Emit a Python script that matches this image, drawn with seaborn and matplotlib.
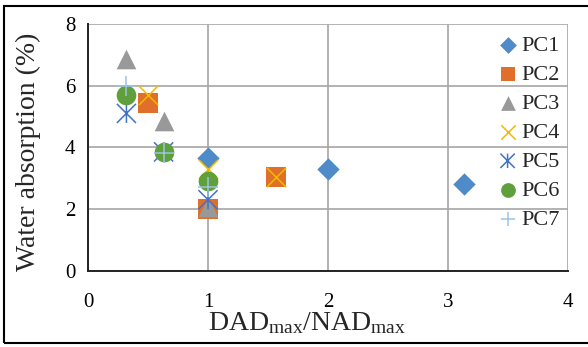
import matplotlib
matplotlib.use("Agg")
import numpy as np
import matplotlib.pyplot as plt
import seaborn as sns
from matplotlib.path import Path
from matplotlib.patches import Rectangle

# data
names = ["PC1", "PC2", "PC3", "PC4", "PC5", "PC6", "PC7"]
pc1_x = [1.0, 2.0, 3.13]
pc1_y = [3.65, 3.3, 2.8]
pc2_x = [0.5, 1.0, 1.57]
pc2_y = [5.45, 2.0, 3.05]
pc3_x = [0.32, 0.63, 1.0]
pc3_y = [6.85, 4.85, 2.05]
pc4_x = [0.5, 1.0, 1.57]
pc4_y = [5.7, 3.3, 3.05]
pc5_x = [0.32, 0.63, 1.0]
pc5_y = [5.1, 3.85, 2.3]
pc6_x = [0.32, 0.63, 1.0]
pc6_y = [5.7, 3.85, 2.9]
pc7_x = [0.32, 0.63, 1.0]
pc7_y = [6.0, 3.8, 2.7]
xs = [pc1_x, pc2_x, pc3_x, pc4_x, pc5_x, pc6_x, pc7_x]
ys = [pc1_y, pc2_y, pc3_y, pc4_y, pc5_y, pc6_y, pc7_y]

sns.set_style("white")
plt.rcParams["font.family"] = ["Liberation Serif", "DejaVu Serif"]
plt.rcParams["mathtext.fontset"] = "custom"
plt.rcParams["mathtext.rm"] = "Liberation Serif"
plt.rcParams["mathtext.it"] = "Liberation Serif:italic"
plt.rcParams["mathtext.default"] = "regular"

# excel style star: x with a vertical bar
star = Path([(-0.5, -0.5), (0.5, 0.5), (-0.5, 0.5), (0.5, -0.5), (0, -0.5), (0, 0.5)],
            [Path.MOVETO, Path.LINETO, Path.MOVETO, Path.LINETO, Path.MOVETO, Path.LINETO])

cols = ["#4F8BC9", "#E06F2C", "#999999", "#F5B800", "#4472C4", "#5FA03C", "#9DC3E6"]
marks = ["D", "s", "^", "x", star, "o", "+"]
sizes = [130, 200, 200, 190, 190, 200, 190]

fig = plt.figure(figsize=(5.88, 3.47), dpi=100)
ax = fig.add_axes([0.1497, 0.22, 0.8163, 0.711])

for i in range(len(names)):
    if marks[i] in ["x", "+"]:
        sns.scatterplot(x=xs[i], y=ys[i], marker=marks[i], color=cols[i], s=sizes[i],
                        linewidth=1.1, label=names[i], ax=ax, zorder=3)
    elif i == 4:
        sns.scatterplot(x=xs[i], y=ys[i], marker=marks[i], s=sizes[i],
                        edgecolor=cols[i], facecolor="none",
                        linewidth=1.1, label=names[i], ax=ax, zorder=3)
    else:
        sns.scatterplot(x=xs[i], y=ys[i], marker=marks[i], color=cols[i], s=sizes[i],
                        linewidth=0, label=names[i], ax=ax, zorder=3)

ax.set_xlim(0, 4)
ax.set_ylim(0, 8)
ax.set_xticks([0, 1, 2, 3, 4])
ax.set_yticks([0, 2, 4, 6, 8])
ax.grid(True, color="#A6A6A6", linewidth=1.2)
ax.set_axisbelow(True)
for s in ["top", "right"]:
    ax.spines[s].set_visible(False)
for s in ["left", "bottom"]:
    ax.spines[s].set_color("#222222")
    ax.spines[s].set_linewidth(1.4)
ax.tick_params(axis="both", length=0, labelsize=15, colors="black")
ax.tick_params(axis="x", pad=16)
ax.tick_params(axis="y", pad=9)

ax.set_xlabel("DAD$_{max}$/NAD$_{max}$", fontsize=20, labelpad=0)
ax.xaxis.set_label_coords(0.455, -0.16)
ax.set_ylabel("Water absorption (%)", fontsize=20)
ax.yaxis.set_label_coords(-0.097, 0.48)

leg = ax.legend(loc="upper right", bbox_to_anchor=(1.005, 1.0), frameon=False,
                fontsize=16, handletextpad=0.0, labelspacing=0.38,
                borderaxespad=0.1, handlelength=1.2, markerscale=0.75)

fig.patches.append(Rectangle((4 / 588, 4 / 347), 1.2, 1 - 10 / 347, transform=fig.transFigure,
                             fill=False, edgecolor="black", linewidth=1.5))

fig.savefig("out.png", dpi=100)
